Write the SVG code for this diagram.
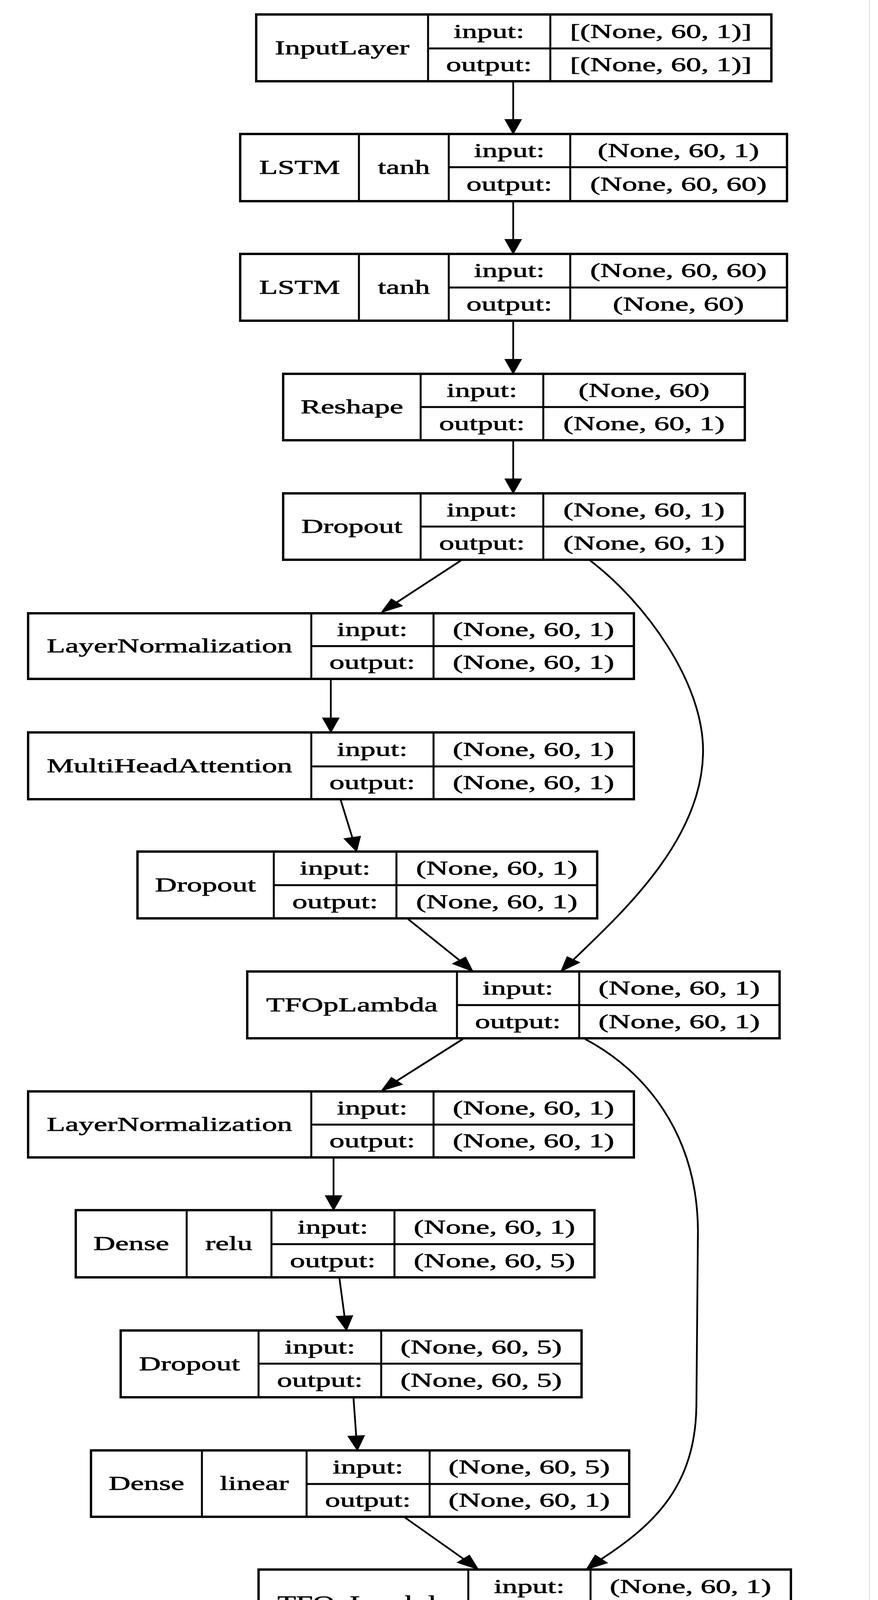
<svg xmlns="http://www.w3.org/2000/svg" width="2248" height="5466" viewBox="0 0 2248 5466">
<style>
rect.b{fill:#fff;stroke:#000;stroke-width:6}
path.d{fill:none;stroke:#000;stroke-width:5}
text{font-family:"Liberation Serif","Times New Roman",serif;font-size:51px;text-anchor:middle;fill:#000;stroke:#000;stroke-width:0.9}
.e{fill:none;stroke:#000;stroke-width:4.5}
.h{fill:#000;stroke:#000;stroke-width:2;stroke-linejoin:miter}
</style>
<rect x="0" y="0" width="2248" height="5466" fill="#fff"/>
<line x1="2226" y1="0" x2="2226" y2="5466" stroke="#e4e4e4" stroke-width="3"/>
<g id="edges">
<path class="e" d="M1314,208V306M1314,515V613M1314,821V920M1314,1127V1226M847,1738V1838M854,2963V3061M1343,4189V4288M1343,4496V4595M1343,4802V4902M1343,5108V5206"/>
<path class="h" d="M1314,343L1293,306L1335,306ZM1314,650L1293,613L1335,613ZM1314,957L1293,920L1335,920ZM1314,1263L1293,1226L1335,1226ZM847,1875L826,1838L868,1838ZM854,3098L833,3061L875,3061ZM1343,4325L1322,4288L1364,4288ZM1343,4632L1322,4595L1364,4595ZM1343,4939L1322,4902L1364,4902ZM1343,5243L1322,5206L1364,5206Z"/>
<path class="e" d="M1180,1435L1016,1542"/>
<path class="h" d="M976,1568L1030,1551L1002,1533Z"/>
<path class="e" d="M1511,1435C1650,1540 1805,1750 1800,1930C1795,2150 1600,2330 1468,2457"/>
<path class="h" d="M1436,2487L1484,2464L1452,2449Z"/>
<path class="e" d="M872,2047L902,2144"/>
<path class="h" d="M913,2180L923,2141L881,2147Z"/>
<path class="e" d="M1045,2353L1176,2458"/>
<path class="h" d="M1211,2487L1192,2450L1159,2467Z"/>
<path class="e" d="M1185,2660L1016,2767"/>
<path class="h" d="M976,2793L1030,2776L1002,2758Z"/>
<path class="e" d="M1498,2660C1650,2740 1785,2900 1787,3150L1783,3600C1780,3800 1680,3900 1540,3991"/>
<path class="h" d="M1501,4018L1555,4001L1524,3981Z"/>
<path class="e" d="M869,3272L882,3369"/>
<path class="h" d="M887,3406L903,3368L861,3370Z"/>
<path class="e" d="M905,3578L912,3676"/>
<path class="h" d="M915,3713L933,3675L891,3677Z"/>
<path class="e" d="M1037,3885L1187,3991"/>
<path class="h" d="M1225,4018L1202,3981L1171,4000Z"/>
</g>
<g id="n1">
<rect class="b" x="656" y="37" width="1319" height="171"/>
<path class="d" d="M1096,37V208M1409,37V208M1096,124H1975"/>
<text transform="translate(876,139) scale(1.52,1)">InputLayer</text>
<text transform="translate(1252,97) scale(1.52,1)">input:</text>
<text transform="translate(1692,97) scale(1.52,1)">[(None, 60, 1)]</text>
<text transform="translate(1252,182) scale(1.52,1)">output:</text>
<text transform="translate(1692,182) scale(1.52,1)">[(None, 60, 1)]</text>
</g>
<g id="n2">
<rect class="b" x="615" y="343" width="1400" height="172"/>
<path class="d" d="M919,343V515M1149,343V515M1460,343V515M1149,428H2015"/>
<text transform="translate(767,445) scale(1.52,1)">LSTM</text>
<text transform="translate(1034,445) scale(1.52,1)">tanh</text>
<text transform="translate(1304,402) scale(1.52,1)">input:</text>
<text transform="translate(1737,402) scale(1.52,1)">(None, 60, 1)</text>
<text transform="translate(1304,488) scale(1.52,1)">output:</text>
<text transform="translate(1737,488) scale(1.52,1)">(None, 60, 60)</text>
</g>
<g id="n3">
<rect class="b" x="615" y="650" width="1400" height="171"/>
<path class="d" d="M919,650V821M1149,650V821M1460,650V821M1149,736H2015"/>
<text transform="translate(767,752) scale(1.52,1)">LSTM</text>
<text transform="translate(1034,752) scale(1.52,1)">tanh</text>
<text transform="translate(1304,709) scale(1.52,1)">input:</text>
<text transform="translate(1737,709) scale(1.52,1)">(None, 60, 60)</text>
<text transform="translate(1304,795) scale(1.52,1)">output:</text>
<text transform="translate(1737,795) scale(1.52,1)">(None, 60)</text>
</g>
<g id="n4">
<rect class="b" x="725" y="957" width="1182" height="170"/>
<path class="d" d="M1077,957V1127M1391,957V1127M1077,1042H1907"/>
<text transform="translate(901,1058) scale(1.52,1)">Reshape</text>
<text transform="translate(1234,1016) scale(1.52,1)">input:</text>
<text transform="translate(1649,1016) scale(1.52,1)">(None, 60)</text>
<text transform="translate(1234,1101) scale(1.52,1)">output:</text>
<text transform="translate(1649,1101) scale(1.52,1)">(None, 60, 1)</text>
</g>
<g id="n5">
<rect class="b" x="725" y="1263" width="1182" height="170"/>
<path class="d" d="M1077,1263V1433M1391,1263V1433M1077,1348H1907"/>
<text transform="translate(901,1364) scale(1.52,1)">Dropout</text>
<text transform="translate(1234,1322) scale(1.52,1)">input:</text>
<text transform="translate(1649,1322) scale(1.52,1)">(None, 60, 1)</text>
<text transform="translate(1234,1407) scale(1.52,1)">output:</text>
<text transform="translate(1649,1407) scale(1.52,1)">(None, 60, 1)</text>
</g>
<g id="n6">
<rect class="b" x="72" y="1570" width="1551" height="168"/>
<path class="d" d="M797,1570V1738M1110,1570V1738M797,1654H1623"/>
<text transform="translate(434,1670) scale(1.52,1)">LayerNormalization</text>
<text transform="translate(953,1628) scale(1.52,1)">input:</text>
<text transform="translate(1366,1628) scale(1.52,1)">(None, 60, 1)</text>
<text transform="translate(953,1712) scale(1.52,1)">output:</text>
<text transform="translate(1366,1712) scale(1.52,1)">(None, 60, 1)</text>
</g>
<g id="n7">
<rect class="b" x="72" y="1875" width="1551" height="171"/>
<path class="d" d="M797,1875V2046M1110,1875V2046M797,1962H1623"/>
<text transform="translate(434,1977) scale(1.52,1)">MultiHeadAttention</text>
<text transform="translate(953,1935) scale(1.52,1)">input:</text>
<text transform="translate(1366,1935) scale(1.52,1)">(None, 60, 1)</text>
<text transform="translate(953,2020) scale(1.52,1)">output:</text>
<text transform="translate(1366,2020) scale(1.52,1)">(None, 60, 1)</text>
</g>
<g id="n8">
<rect class="b" x="352" y="2180" width="1177" height="171"/>
<path class="d" d="M701,2180V2351M1015,2180V2351M701,2266H1529"/>
<text transform="translate(526,2282) scale(1.52,1)">Dropout</text>
<text transform="translate(858,2239) scale(1.52,1)">input:</text>
<text transform="translate(1272,2239) scale(1.52,1)">(None, 60, 1)</text>
<text transform="translate(858,2325) scale(1.52,1)">output:</text>
<text transform="translate(1272,2325) scale(1.52,1)">(None, 60, 1)</text>
</g>
<g id="n9">
<rect class="b" x="633" y="2487" width="1363" height="171"/>
<path class="d" d="M1170,2487V2658M1483,2487V2658M1170,2573H1996"/>
<text transform="translate(901,2589) scale(1.52,1)">TFOpLambda</text>
<text transform="translate(1326,2546) scale(1.52,1)">input:</text>
<text transform="translate(1739,2546) scale(1.52,1)">(None, 60, 1)</text>
<text transform="translate(1326,2632) scale(1.52,1)">output:</text>
<text transform="translate(1739,2632) scale(1.52,1)">(None, 60, 1)</text>
</g>
<g id="n10">
<rect class="b" x="72" y="2794" width="1551" height="169"/>
<path class="d" d="M797,2794V2963M1110,2794V2963M797,2879H1623"/>
<text transform="translate(434,2895) scale(1.52,1)">LayerNormalization</text>
<text transform="translate(953,2853) scale(1.52,1)">input:</text>
<text transform="translate(1366,2853) scale(1.52,1)">(None, 60, 1)</text>
<text transform="translate(953,2937) scale(1.52,1)">output:</text>
<text transform="translate(1366,2937) scale(1.52,1)">(None, 60, 1)</text>
</g>
<g id="n11">
<rect class="b" x="194" y="3098" width="1328" height="172"/>
<path class="d" d="M478,3098V3270M695,3098V3270M1010,3098V3270M695,3185H1522"/>
<text transform="translate(336,3200) scale(1.52,1)">Dense</text>
<text transform="translate(586,3200) scale(1.52,1)">relu</text>
<text transform="translate(852,3158) scale(1.52,1)">input:</text>
<text transform="translate(1266,3158) scale(1.52,1)">(None, 60, 1)</text>
<text transform="translate(852,3244) scale(1.52,1)">output:</text>
<text transform="translate(1266,3244) scale(1.52,1)">(None, 60, 5)</text>
</g>
<g id="n12">
<rect class="b" x="309" y="3406" width="1180" height="171"/>
<path class="d" d="M662,3406V3577M976,3406V3577M662,3491H1489"/>
<text transform="translate(485,3508) scale(1.52,1)">Dropout</text>
<text transform="translate(819,3465) scale(1.52,1)">input:</text>
<text transform="translate(1232,3465) scale(1.52,1)">(None, 60, 5)</text>
<text transform="translate(819,3550) scale(1.52,1)">output:</text>
<text transform="translate(1232,3550) scale(1.52,1)">(None, 60, 5)</text>
</g>
<g id="n13">
<rect class="b" x="233" y="3713" width="1378" height="170"/>
<path class="d" d="M517,3713V3883M785,3713V3883M1100,3713V3883M785,3799H1611"/>
<text transform="translate(375,3814) scale(1.52,1)">Dense</text>
<text transform="translate(651,3814) scale(1.52,1)">linear</text>
<text transform="translate(942,3772) scale(1.52,1)">input:</text>
<text transform="translate(1355,3772) scale(1.52,1)">(None, 60, 5)</text>
<text transform="translate(942,3857) scale(1.52,1)">output:</text>
<text transform="translate(1355,3857) scale(1.52,1)">(None, 60, 1)</text>
</g>
<g id="n14">
<rect class="b" x="662" y="4018" width="1363" height="171"/>
<path class="d" d="M1199,4018V4189M1512,4018V4189M1199,4105H2025"/>
<text transform="translate(930,4120) scale(1.52,1)">TFOpLambda</text>
<text transform="translate(1355,4078) scale(1.52,1)">input:</text>
<text transform="translate(1768,4078) scale(1.52,1)">(None, 60, 1)</text>
<text transform="translate(1355,4163) scale(1.52,1)">output:</text>
<text transform="translate(1768,4163) scale(1.52,1)">(None, 60, 1)</text>
</g>
<g id="n15">
<rect class="b" x="484" y="4326" width="1723" height="170"/>
<path class="d" d="M1379,4326V4496M1692,4326V4496M1379,4411H2207"/>
<text transform="translate(931,4427) scale(1.52,1)">GlobalAveragePooling1D</text>
<text transform="translate(1535,4385) scale(1.52,1)">input:</text>
<text transform="translate(1949,4385) scale(1.52,1)">(None, 60, 1)</text>
<text transform="translate(1535,4470) scale(1.52,1)">output:</text>
<text transform="translate(1949,4470) scale(1.52,1)">(None, 60)</text>
</g>
<g id="n16">
<rect class="b" x="793" y="4632" width="1103" height="170"/>
<path class="d" d="M1146,4632V4802M1460,4632V4802M1146,4717H1896"/>
<text transform="translate(969,4733) scale(1.52,1)">Dropout</text>
<text transform="translate(1303,4691) scale(1.52,1)">input:</text>
<text transform="translate(1678,4691) scale(1.52,1)">(None, 60)</text>
<text transform="translate(1303,4776) scale(1.52,1)">output:</text>
<text transform="translate(1678,4776) scale(1.52,1)">(None, 60)</text>
</g>
<g id="n17">
<rect class="b" x="718" y="4939" width="1252" height="169"/>
<path class="d" d="M1005,4939V5108M1221,4939V5108M1534,4939V5108M1221,5023H1970"/>
<text transform="translate(861,5040) scale(1.52,1)">Dense</text>
<text transform="translate(1113,5040) scale(1.52,1)">relu</text>
<text transform="translate(1377,4997) scale(1.52,1)">input:</text>
<text transform="translate(1752,4997) scale(1.52,1)">(None, 60)</text>
<text transform="translate(1377,5082) scale(1.52,1)">output:</text>
<text transform="translate(1752,5082) scale(1.52,1)">(None, 30)</text>
</g>
<g id="n18">
<rect class="b" x="694" y="5243" width="1301" height="172"/>
<path class="d" d="M976,5243V5415M1246,5243V5415M1561,5243V5415M1246,5329H1995"/>
<text transform="translate(835,5345) scale(1.52,1)">Dense</text>
<text transform="translate(1111,5345) scale(1.52,1)">linear</text>
<text transform="translate(1403,5302) scale(1.52,1)">input:</text>
<text transform="translate(1778,5302) scale(1.52,1)">(None, 30)</text>
<text transform="translate(1403,5388) scale(1.52,1)">output:</text>
<text transform="translate(1778,5388) scale(1.52,1)">(None, 1)</text>
</g>
</svg>
